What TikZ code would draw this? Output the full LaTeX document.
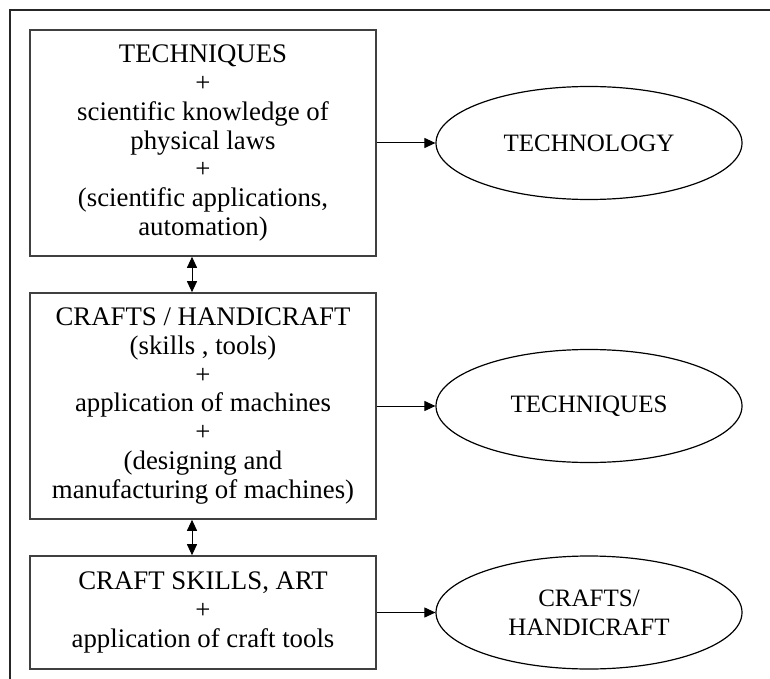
\documentclass[tikz,border=0pt]{standalone}
\usepackage{fontspec}
\setmainfont{Liberation Serif}
\usetikzlibrary{%
  arrows.meta,%
  shapes.geometric,% wg. ellipse
  positioning%
}

\begin{document}
\begin{tikzpicture}
  [
  x=0.5pt, y=-0.5pt,
  font=\fontsize{13.4}{14.4}\selectfont, line width=0.5pt,
  >={Triangle[length=5.5pt,width=5pt]},
  level/.style={rectangle, minimum width=173pt, draw=black!75, line width=0.8pt, align=center, inner sep=2pt},
  result/.style={ellipse, minimum width=153pt, minimum height=56.5pt, draw=black, line width=0.6pt, align=center, inner sep=1pt, font=\fontsize{12.5}{14.4}\selectfont}
  ]

\useasboundingbox (0,0) rectangle (770,679);

% frame
\draw[line width=0.8pt, draw=black!85] (10,679) -- (10,10) -- (770,10);

\node[level, minimum height=113pt] (box1) at (203,143)
  {TECHNIQUES\\+\\scientific knowledge of\\physical laws\\+\\(scientific applications,\\automation)};
\node[level, minimum height=113pt] (box2) at (203,406)
  {CRAFTS / HANDICRAFT\\(skills , tools)\\+\\application of machines\\+\\(designing and\\manufacturing of machines)};
\node[level, minimum height=56.5pt] (box3) at (203,612.5)
  {CRAFT SKILLS, ART\\+\\application of craft tools};

\node[result] (ell1) at (589,143) {TECHNOLOGY};
\node[result] (ell2) at (589,406) {TECHNIQUES};
\node[result] (ell3) at (589,612.5) {CRAFTS/\\HANDICRAFT};

\foreach \n in {1,2,3} {
  \draw[->] (box\n) -- (ell\n);
}

\draw[<->] ([xshift=-5.5pt]box1.south) -- ([xshift=-5.5pt]box2.north);
\draw[<->] ([xshift=-5.5pt]box2.south) -- ([xshift=-5.5pt]box3.north);

\end{tikzpicture}
\end{document}
